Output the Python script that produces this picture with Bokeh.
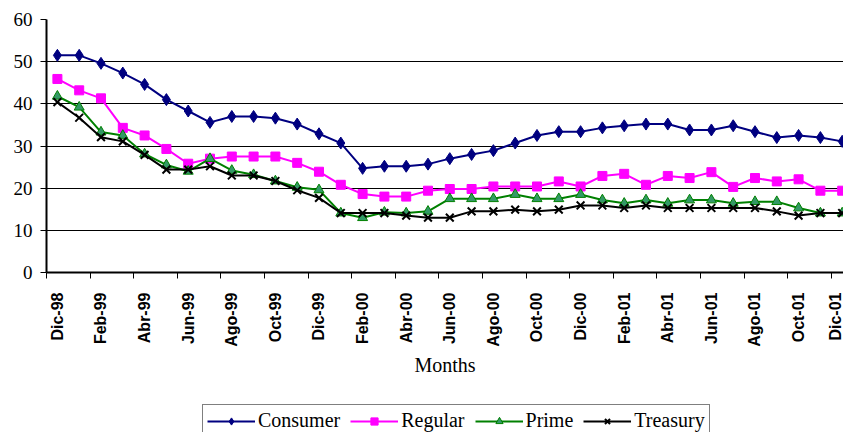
from bokeh.plotting import figure
from bokeh.models import Range1d, FixedTicker, Legend, LegendItem
from bokeh.layouts import column
from bokeh.embed import file_html
from bokeh.resources import INLINE
import math

months = ["Dic-98", "Ene-99", "Feb-99", "Mar-99", "Abr-99", "May-99", "Jun-99", "Jul-99",
          "Ago-99", "Sep-99", "Oct-99", "Nov-99", "Dic-99", "Ene-00", "Feb-00", "Mar-00",
          "Abr-00", "May-00", "Jun-00", "Jul-00", "Ago-00", "Sep-00", "Oct-00", "Nov-00",
          "Dic-00", "Ene-01", "Feb-01", "Mar-01", "Abr-01", "May-01", "Jun-01", "Jul-01",
          "Ago-01", "Sep-01", "Oct-01", "Nov-01", "Dic-01"]

consumer = [51.5, 51.5, 49.6, 47.3, 44.6, 41.0, 38.3, 35.6, 37.0, 37.0, 36.6, 35.2,
            32.9, 30.7, 24.7, 25.2, 25.2, 25.7, 27.0, 28.0, 28.9, 30.7, 32.5, 33.4,
            33.4, 34.3, 34.8, 35.2, 35.2, 33.8, 33.8, 34.8, 33.4, 32.0, 32.5, 32.0, 31.1]
regular = [45.9, 43.2, 41.3, 34.3, 32.5, 29.3, 25.8, 27.0, 27.5, 27.5, 27.5, 26.0,
           23.9, 20.8, 18.6, 18.0, 18.0, 19.4, 19.8, 19.8, 20.4, 20.4, 20.4, 21.6,
           20.4, 22.9, 23.4, 20.8, 22.9, 22.4, 23.8, 20.3, 22.4, 21.6, 22.1, 19.4, 19.4]
prime = [41.8, 39.2, 33.3, 32.5, 28.1, 25.5, 24.0, 27.0, 24.2, 23.2, 21.7, 20.2,
         19.6, 14.1, 13.0, 14.3, 14.1, 14.5, 17.5, 17.5, 17.5, 18.5, 17.5, 17.5,
         18.5, 17.2, 16.4, 17.2, 16.4, 17.2, 17.2, 16.4, 16.8, 16.8, 15.3, 14.1, 14.1]
treasury = [40.4, 36.7, 32.1, 31.1, 27.9, 24.4, 24.4, 25.2, 23.0, 23.0, 21.7, 19.5,
            17.7, 14.1, 14.1, 14.1, 13.5, 13.0, 13.0, 14.5, 14.5, 14.9, 14.5, 14.9,
            15.9, 15.9, 15.3, 15.9, 15.3, 15.3, 15.3, 15.3, 15.3, 14.5, 13.5, 14.1, 14.1]

y_ticks = [0, 10, 20, 30, 40, 50, 60]

series = [
    ("Consumer", consumer, dict(color="#000080", marker="diamond", size=12, fill="#000080", lw=1)),
    ("Regular", regular, dict(color="#FF00FF", marker="square", size=9, fill="#FF00FF", lw=1)),
    ("Prime", prime, dict(color="#008000", marker="triangle", size=10, fill="#339966", lw=1)),
    ("Treasury", treasury, dict(color="black", marker="x", size=11, fill="black", lw=2)),
]

x = list(range(len(months)))
label_idx = x[::2]
tick_labels = {i: months[i] for i in label_idx}

p = figure(width=843, height=395, output_backend="svg", toolbar_location=None,
           x_range=Range1d(-0.5, 36.06), y_range=Range1d(0, 60),
           min_border_left=46, min_border_right=0, min_border_top=19,
           min_border_bottom=123)
p.outline_line_color = None
p.background_fill_color = "white"
p.border_fill_color = "white"

# axes
xa = p.xaxis[0]
xa.ticker = FixedTicker(ticks=label_idx, minor_ticks=[i - 0.5 for i in label_idx])
xa.major_label_overrides = tick_labels
xa.major_label_orientation = math.pi / 2
xa.major_tick_out = 0
xa.major_tick_in = 0
xa.minor_tick_out = 6
xa.minor_tick_in = 0
xa.minor_tick_line_color = "black"
xa.minor_tick_line_width = 1
xa.axis_line_color = "black"
xa.axis_line_width = 2
xa.major_label_text_font = "Liberation Sans"
xa.major_label_text_font_style = "bold"
xa.major_label_text_font_size = "16px"
xa.major_label_text_color = "black"
xa.major_label_standoff = 14
xa.axis_label = "Months"
xa.axis_label_text_font = "Liberation Serif"
xa.axis_label_text_font_style = "normal"
xa.axis_label_text_font_size = "20px"
xa.axis_label_text_color = "black"
xa.axis_label_standoff = 4

ya = p.yaxis[0]
ya.ticker = FixedTicker(ticks=y_ticks)
ya.major_tick_out = 6
ya.major_tick_in = 0
ya.minor_tick_out = 0
ya.minor_tick_in = 0
ya.major_tick_line_color = "black"
ya.axis_line_color = "black"
ya.axis_line_width = 2
ya.major_label_text_font = "Liberation Serif"
ya.major_label_text_font_size = "19px"
ya.major_label_text_color = "black"
ya.major_label_standoff = 8

p.xgrid.grid_line_color = None
p.ygrid.ticker = FixedTicker(ticks=y_ticks[1:])
p.ygrid.grid_line_color = "black"
p.ygrid.grid_line_width = 1

# legend strip below the chart (off-range proxy renderers carry the legend styles)
p2 = figure(width=843, height=37, output_backend="svg", toolbar_location=None,
            x_range=Range1d(0, 1), y_range=Range1d(0, 1),
            min_border_left=0, min_border_right=0, min_border_top=0, min_border_bottom=0,
            x_axis_type=None, y_axis_type=None)
p2.outline_line_color = None
p2.xgrid.visible = False
p2.ygrid.visible = False
p2.border_fill_color = "white"

items = []
for name, vals, st in series:
    p.line(x, vals, line_color=st["color"], line_width=2)
    if st["marker"] == "x":
        p.scatter(x, vals, marker="x", size=st["size"], line_color=st["color"], line_width=st["lw"])
    else:
        p.scatter(x, vals, marker=st["marker"], size=st["size"], fill_color=st["fill"],
                  line_color=st["color"], line_width=st["lw"])
    ln = p2.line([-5, -4], [-5, -4], line_color=st["color"], line_width=2)
    if st["marker"] == "x":
        mk = p2.scatter([-5], [-5], marker="x", size=9, line_color=st["color"], line_width=2)
    else:
        mk = p2.scatter([-5], [-5], marker=st["marker"], size=st["size"] - 2, fill_color=st["fill"],
                        line_color=st["color"])
    items.append(LegendItem(label=name, renderers=[ln, mk]))

legend = Legend(items=items, orientation="horizontal", location=(156, -5))
legend.label_text_font = "Liberation Serif"
legend.label_text_font_size = "20px"
legend.label_text_color = "black"
legend.glyph_width = 48
legend.glyph_height = 18
legend.label_height = 18
legend.label_standoff = 3
legend.spacing = 10
legend.padding = 4
legend.margin = 0
legend.border_line_color = "black"
legend.border_line_width = 1
legend.background_fill_alpha = 1
p2.add_layout(legend, "center")

layout = column(p, p2, spacing=0)
open("out.html", "w").write(file_html(layout, INLINE))
